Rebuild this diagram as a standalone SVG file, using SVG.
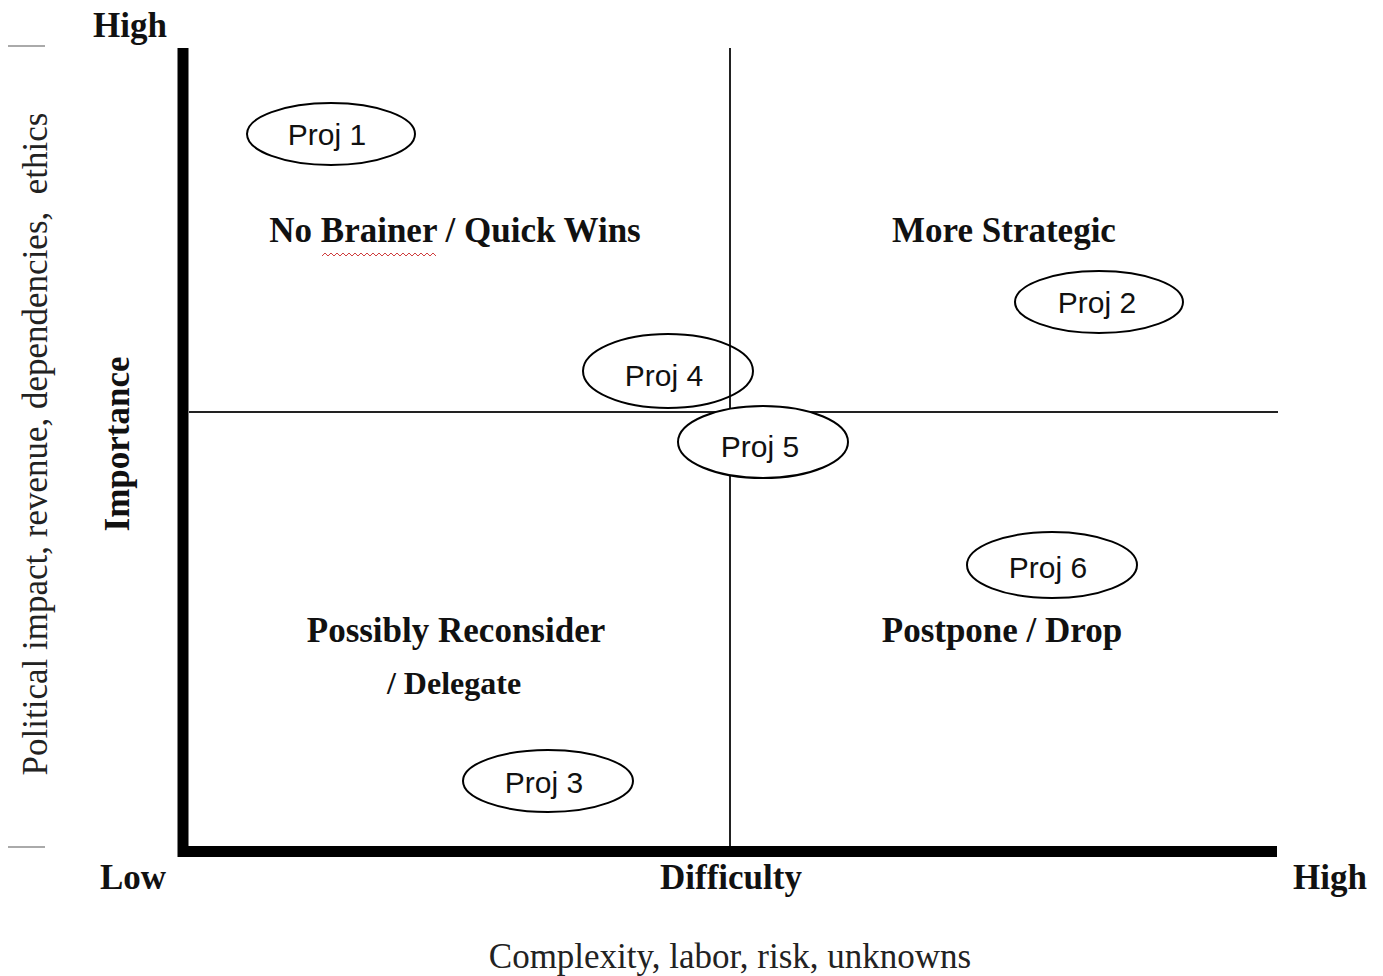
<svg xmlns="http://www.w3.org/2000/svg" width="1383" height="976" viewBox="0 0 1383 976">
<style>
.lab{font-family:"Liberation Serif","Times New Roman",serif;font-weight:bold;font-size:35px;fill:#111;text-anchor:middle}
.sub{font-family:"Liberation Serif","Times New Roman",serif;font-size:35px;fill:#222;text-anchor:middle}
.proj{font-family:"Liberation Sans",Arial,sans-serif;font-size:30px;fill:#111;text-anchor:middle}
.ell{fill:#fff;stroke:#000;stroke-width:2}
.grid{stroke:#222;stroke-width:2;fill:none}
.axis{stroke:#000;stroke-width:11;fill:none}
.tick{stroke:#aaa;stroke-width:2}
</style>
<rect width="1383" height="976" fill="#fff"/>
<g id="connectors">
<line class="tick" x1="8" y1="46" x2="45" y2="46"/>
<line class="tick" x1="8" y1="847" x2="45" y2="847"/>
<line class="grid" x1="730" y1="48" x2="730" y2="846"/>
<line class="grid" x1="189" y1="412" x2="1278" y2="412"/>
<polyline class="axis" points="183,48 183,851.5 1277,851.5"/>
</g>
<g id="axis-labels">
<text class="lab" x="130" y="37">High</text>
<text class="lab" x="133" y="889">Low</text>
<text class="lab" x="731" y="889">Difficulty</text>
<text class="lab" x="1330" y="889">High</text>
<text class="sub" x="730" y="968">Complexity, labor, risk, unknowns</text>
<text class="lab" transform="translate(129,444) rotate(-90)">Importance</text>
<text class="sub" xml:space="preserve" transform="translate(47,444) rotate(-90)">Political impact, revenue, dependencies,  ethics</text>
</g>
<g id="quadrant-labels">
<text class="lab" x="455" y="242">No Brainer / Quick Wins</text>
<path d="M322,256 l3,-3 l3,3 l3,-3 l3,3 l3,-3 l3,3 l3,-3 l3,3 l3,-3 l3,3 l3,-3 l3,3 l3,-3 l3,3 l3,-3 l3,3 l3,-3 l3,3 l3,-3 l3,3 l3,-3 l3,3 l3,-3 l3,3 l3,-3 l3,3 l3,-3 l3,3 l3,-3 l3,3 l3,-3 l3,3 l3,-3 l3,3 l3,-3 l3,3 l3,-3 l3,3" fill="none" stroke="#d04040" stroke-width="1"/>
<text class="lab" x="1004" y="242">More Strategic</text>
<text class="lab" x="456" y="642">Possibly Reconsider</text>
<text class="lab" x="454" y="694" style="font-size:32px">/ Delegate</text>
<text class="lab" x="1002" y="642">Postpone / Drop</text>
</g>
<g id="proj1"><ellipse class="ell" cx="331" cy="134" rx="84" ry="31"/><text class="proj" x="327" y="145">Proj 1</text></g>
<g id="proj2"><ellipse class="ell" cx="1099" cy="302" rx="84" ry="31"/><text class="proj" x="1097" y="313">Proj 2</text></g>
<g id="proj4"><ellipse class="ell" cx="668" cy="371" rx="85" ry="37" style="fill:none"/><text class="proj" x="664" y="386">Proj 4</text></g>
<g id="proj5"><ellipse class="ell" cx="763" cy="442" rx="85" ry="36"/><text class="proj" x="760" y="457">Proj 5</text></g>
<g id="proj6"><ellipse class="ell" cx="1052" cy="565" rx="85" ry="33"/><text class="proj" x="1048" y="578">Proj 6</text></g>
<g id="proj3"><ellipse class="ell" cx="548" cy="781" rx="85" ry="31"/><text class="proj" x="544" y="793">Proj 3</text></g>
</svg>
